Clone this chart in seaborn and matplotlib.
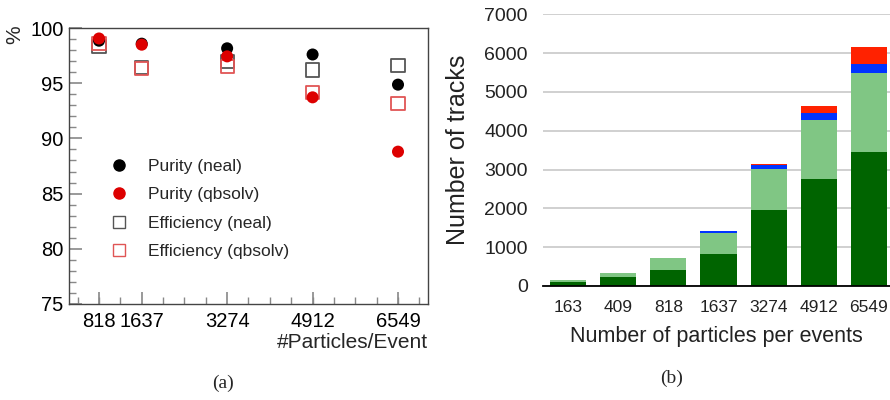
import matplotlib
matplotlib.use("Agg")
import matplotlib.pyplot as plt
import seaborn as sns
import pandas as pd
import numpy as np
from matplotlib.ticker import FixedLocator, MultipleLocator

sns.set_theme(style="white")
plt.rcParams['font.family'] = ['Liberation Sans', 'DejaVu Sans']

# ---- panel (a) data ----
particles_a = [818, 1637, 3274, 4912, 6549]
purity_neal = [98.85, 98.58, 98.16, 97.6, 94.87]
purity_qbsolv = [99.05, 98.49, 97.43, 93.72, 88.8]
purity_qbsolv_err = [0.1, 0.1, 0.15, 0.2, 0.45]
eff_neal = [98.3, 96.4, 97.0, 96.2, 96.6]
eff_qbsolv = [98.6, 96.35, 96.5, 94.14, 93.18]

# ---- panel (b) data ----
particles_b = ["163", "409", "818", "1637", "3274", "4912", "6549"]
dark_green = [100, 230, 415, 830, 1960, 2750, 3450]
light_green = [55, 105, 305, 530, 1055, 1530, 2040]
blue_part = [0, 0, 0, 50, 92, 180, 230]
red_part = [0, 0, 0, 0, 36, 180, 440]

fig = plt.figure(figsize=(8.9, 4.0), dpi=100)

# ---------------- panel (a) ----------------
axa = fig.add_axes([69/890, 1-304/400, (428-69)/890, (304-28)/400])
dfa = pd.DataFrame({"x": particles_a, "pn": purity_neal, "pq": purity_qbsolv,
                    "en": eff_neal, "eq": eff_qbsolv})
sns.scatterplot(data=dfa, x="x", y="en", ax=axa, marker="s", s=90,
                facecolor="none", edgecolor="#555555", linewidth=1.3, zorder=3)
sns.scatterplot(data=dfa, x="x", y="eq", ax=axa, marker="s", s=90,
                facecolor="none", edgecolor="#e05555", linewidth=1.3, zorder=3)
sns.scatterplot(data=dfa, x="x", y="pn", ax=axa, marker="o", s=75,
                color="black", edgecolor="none", zorder=4)
axa.errorbar(particles_a, purity_qbsolv, yerr=purity_qbsolv_err, fmt="none",
             ecolor="#dd0000", elinewidth=1.5, zorder=4)
sns.scatterplot(data=dfa, x="x", y="pq", ax=axa, marker="o", s=75,
                color="#dd0000", edgecolor="none", zorder=5)

axa.set_xlim(243, 7124)
axa.set_ylim(75, 100)
axa.xaxis.set_major_locator(FixedLocator(particles_a))
axa.xaxis.set_minor_locator(FixedLocator([409.25 * k for k in range(1, 18)]))
axa.yaxis.set_major_locator(MultipleLocator(5))
axa.yaxis.set_minor_locator(MultipleLocator(1))
axa.tick_params(axis="both", which="both", direction="in", color="#888888",
                labelsize=14.5, labelcolor="black", bottom=True, left=True,
                top=False, right=False)
axa.tick_params(axis="both", which="major", length=9, width=1.2)
axa.tick_params(axis="both", which="minor", length=5, width=1)
axa.tick_params(axis="x", pad=6)
axa.tick_params(axis="y", pad=4)
for sp in axa.spines.values():
    sp.set_visible(True)
    sp.set_color("#444444")
    sp.set_linewidth(1.0)
axa.set_xlabel("")
axa.set_ylabel("")
axa.text(1.0, -38/276, "#Particles/Event", transform=axa.transAxes,
         ha="right", va="center", fontsize=15)
fig.text(15/890, 1-35/400, "%", rotation=90, ha="center", va="center", fontsize=15)

# legend
handles = [
    plt.Line2D([], [], marker="o", ls="none", color="black", markersize=8),
    plt.Line2D([], [], marker="o", ls="none", color="#dd0000", markersize=8),
    plt.Line2D([], [], marker="s", ls="none", mfc="none", mec="#555555", markersize=8, mew=1.0),
    plt.Line2D([], [], marker="s", ls="none", mfc="none", mec="#e05555", markersize=8, mew=1.0),
]
labels = ["Purity (neal)", "Purity (qbsolv)", "Efficiency (neal)", "Efficiency (qbsolv)"]
axa.legend(handles, labels, loc="upper left", bbox_to_anchor=(0.072, 0.55),
           frameon=False, fontsize=12.5, handletextpad=0.67, labelspacing=0.75,
           borderaxespad=0)

fig.text(223/890, 1-383/400, "(a)", family="Liberation Serif", fontsize=14,
         ha="center", va="center")

# ---------------- panel (b) ----------------
axb = fig.add_axes([543/890, 1-286/400, (890-543)/890, (286-14.3)/400])
dfb = pd.DataFrame({"p": particles_b, "dark": dark_green, "light": light_green,
                    "blue": blue_part, "red": red_part})
b1 = np.array(dark_green)
b2 = b1 + np.array(light_green)
b3 = b2 + np.array(blue_part)
sns.barplot(data=dfb, x="p", y="dark", order=particles_b, color="#006400",
            width=0.72, ax=axb, saturation=1, zorder=3)
sns.barplot(data=dfb, x="p", y="light", order=particles_b, color="#80c684",
            width=0.72, ax=axb, saturation=1, bottom=b1, zorder=3)
sns.barplot(data=dfb, x="p", y="blue", order=particles_b, color="#0033ff",
            width=0.72, ax=axb, saturation=1, bottom=b2, zorder=3)
sns.barplot(data=dfb, x="p", y="red", order=particles_b, color="#ff2200",
            width=0.72, ax=axb, saturation=1, bottom=b3, zorder=3)
for p in axb.patches:
    p.set_edgecolor("none")

axb.set_ylim(0, 7000)
axb.set_xlim(-0.5, 6.42)
axb.yaxis.set_major_locator(MultipleLocator(1000))
axb.grid(axis="y", color="#c8c8c8", linewidth=1.2, zorder=0)
axb.set_axisbelow(True)
for s in ["left", "right", "top"]:
    axb.spines[s].set_visible(False)
axb.spines["bottom"].set_color("black")
axb.spines["bottom"].set_linewidth(1.3)
axb.spines["bottom"].set_zorder(5)
axb.tick_params(axis="y", length=0, labelsize=14, pad=11, colors="#222222")
axb.tick_params(axis="x", length=0, labelsize=12.5, pad=10, colors="#222222")
axb.set_xlabel("Number of particles per events", fontsize=15.5, labelpad=8,
               color="#222222")
axb.set_ylabel("Number of tracks", fontsize=18, color="#222222")
axb.yaxis.set_label_coords((470 - 543) / 347, 0.5)

fig.text(672/890, 1-378/400, "(b)", family="Liberation Serif", fontsize=14,
         ha="center", va="center")

fig.savefig("out.png", dpi=100)
